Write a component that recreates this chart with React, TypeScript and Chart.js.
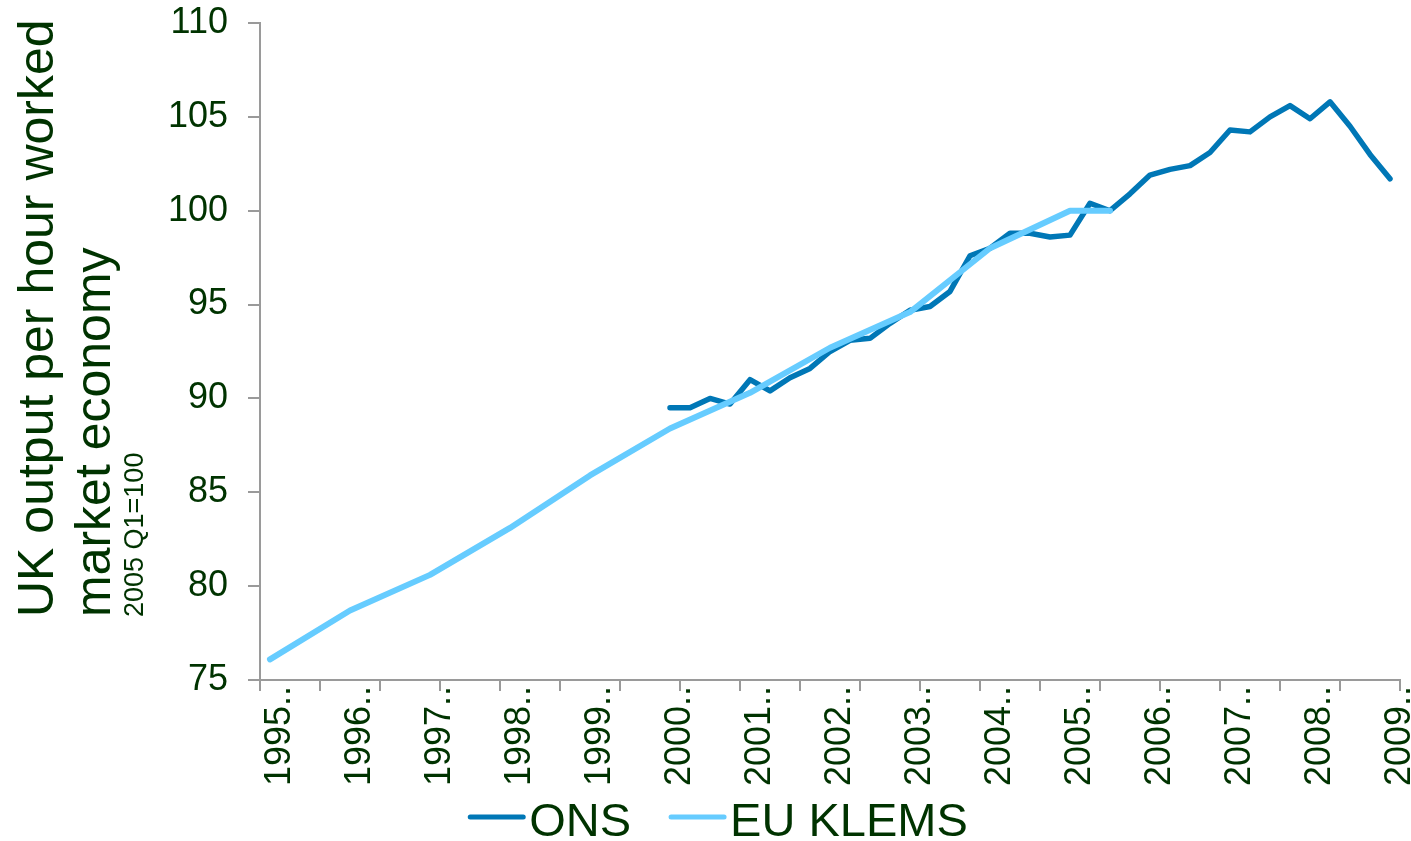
import React, { useEffect, useRef } from "react";
import { Chart, registerables } from "chart.js";

Chart.register(...registerables);

// ---- data ----
const YEARS = [1995, 1996, 1997, 1998, 1999, 2000, 2001, 2002, 2003, 2004, 2005, 2006, 2007, 2008, 2009];
const QUARTER_NAMES = ["Q1", "Q2", "Q3", "Q4"];
const LAST_PERIOD = "2009 Q1";
const ALL_PERIODS = YEARS.flatMap((y) => QUARTER_NAMES.map((q) => `${y} ${q}`));
const CATEGORIES = ALL_PERIODS.slice(0, ALL_PERIODS.indexOf(LAST_PERIOD) + 1);

const ONS_START = "2000 Q1";
const ONS_VALUES = [
  89.5, 89.5, 90.0, 89.7,
  91.0, 90.4, 91.1, 91.6,
  92.5, 93.1, 93.2, 94.0,
  94.7, 94.9, 95.7, 97.6,
  98.0, 98.8, 98.8, 98.6,
  98.7, 100.4, 100.0, 100.9,
  101.9, 102.2, 102.4, 103.1,
  104.3, 104.2, 105.0, 105.6,
  104.9, 105.8, 104.5, 103.0,
  101.7,
];

const EU_KLEMS_PERIODS = [
  "1995 Q1", "1996 Q1", "1997 Q1", "1998 Q1", "1999 Q1", "2000 Q1",
  "2001 Q1", "2002 Q1", "2003 Q1", "2004 Q1", "2005 Q1", "2005 Q3",
];
const EU_KLEMS_VALUES = [76.1, 78.7, 80.6, 83.1, 85.9, 88.4, 90.3, 92.7, 94.6, 98.0, 100.0, 100.0];

const SERIES_NAMES = ["ONS", "EU KLEMS"];
const Y_MIN = 75;
const Y_MAX = 110;
const Y_STEP = 5;
const Y_TITLE_LINES = ["UK output per hour worked", "market economy"];
const Y_SUBTITLE = "2005 Q1=100";

// ---- styles ----
const TEXT_COLOR = "#003300";
const AXIS_GREY = "#9a9a9a";
const ONS_COLOR = "#0077B6";
const KLEMS_COLOR = "#66CCFF";
const FONT = "'Liberation Sans', Arial, sans-serif";

const onsData = ONS_VALUES.map((v, i) => ({
  x: CATEGORIES[CATEGORIES.indexOf(ONS_START) + i],
  y: v,
}));
const klemsData = EU_KLEMS_PERIODS.map((p, i) => ({ x: p, y: EU_KLEMS_VALUES[i] }));

const decorPlugin = {
  id: "decor",
  afterDraw(chart: any) {
    const ctx = chart.ctx as CanvasRenderingContext2D;
    const xs = chart.scales.x;
    const area = chart.chartArea;
    ctx.save();

    // x-axis tick marks every 3 categories (at category boundaries)
    const step = xs.getPixelForValue(1) - xs.getPixelForValue(0);
    const first = xs.getPixelForValue(0) - step / 2;
    ctx.strokeStyle = AXIS_GREY;
    ctx.lineWidth = 2;
    ctx.beginPath();
    for (let i = 0; i <= CATEGORIES.length; i += 3) {
      const px = Math.round(first + i * step);
      ctx.moveTo(px, area.bottom);
      ctx.lineTo(px, area.bottom + 11);
    }
    ctx.stroke();

    // y-axis title (rotated)
    ctx.fillStyle = TEXT_COLOR;
    ctx.textAlign = "left";
    ctx.textBaseline = "alphabetic";
    const startY = 617;
    const drawRot = (text: string, bx: number, font: string) => {
      ctx.save();
      ctx.translate(bx, startY);
      ctx.rotate(-Math.PI / 2);
      ctx.font = font;
      ctx.fillText(text, 0, 0);
      ctx.restore();
    };
    drawRot(Y_TITLE_LINES[0], 53, `50px ${FONT}`);
    drawRot(Y_TITLE_LINES[1], 110, `50px ${FONT}`);
    drawRot(Y_SUBTITLE, 143, `27px ${FONT}`);

    // legend
    ctx.font = `47px ${FONT}`;
    const sampleW = 57;
    const gap = 4;
    const between = 38;
    const items = chart.data.datasets.map((d: any) => ({
      label: d.label,
      color: d.borderColor,
      w: sampleW + gap + ctx.measureText(d.label).width,
    }));
    const total = items.reduce((s: number, it: any) => s + it.w, 0) + between * (items.length - 1);
    let lx = 718 - total / 2;
    const ly = 817;
    items.forEach((it: any) => {
      ctx.strokeStyle = it.color;
      ctx.lineWidth = 5;
      ctx.lineCap = "round";
      ctx.beginPath();
      ctx.moveTo(lx + 2, ly);
      ctx.lineTo(lx + sampleW - 2, ly);
      ctx.stroke();
      ctx.fillStyle = TEXT_COLOR;
      ctx.fillText(it.label, lx + sampleW + gap, 836);
      lx += it.w + between;
    });
    ctx.restore();
  },
};

export default function App() {
  const canvasRef = useRef<HTMLCanvasElement | null>(null);

  useEffect(() => {
    document.body.style.margin = "0";
    const canvas = canvasRef.current;
    if (!canvas) return;
    const chart = new Chart(canvas, {
      type: "line",
      data: {
        labels: CATEGORIES,
        datasets: [
          {
            label: SERIES_NAMES[0],
            data: onsData as any,
            borderColor: ONS_COLOR,
            backgroundColor: ONS_COLOR,
            borderWidth: 5.5,
            pointRadius: 0,
            borderCapStyle: "round",
            borderJoinStyle: "round",
            tension: 0,
            order: 1,
          },
          {
            label: SERIES_NAMES[1],
            data: klemsData as any,
            borderColor: KLEMS_COLOR,
            backgroundColor: KLEMS_COLOR,
            borderWidth: 6,
            pointRadius: 0,
            borderCapStyle: "round",
            borderJoinStyle: "round",
            tension: 0,
            order: 0,
          },
        ],
      },
      options: {
        responsive: false,
        animation: false,
        layout: { padding: { top: 23, right: 11, left: 0, bottom: 0 } },
        plugins: {
          legend: { display: false },
          tooltip: { enabled: false },
          title: { display: false },
        },
        scales: {
          x: {
            type: "category",
            offset: true,
            afterFit: (scale: any) => {
              scale.height = 161;
              scale.paddingLeft = 0;
              scale.paddingRight = 0;
            },
            grid: {
              display: true,
              drawOnChartArea: false,
              offset: true,
              tickLength: 6,
              color: "rgba(0,0,0,0)",
            },
            border: { display: true, color: AXIS_GREY, width: 2 },
            ticks: {
              autoSkip: false,
              maxRotation: 90,
              minRotation: 90,
              padding: 0,
              labelOffset: 10,
              color: TEXT_COLOR,
              font: { family: FONT, size: 36 },
              callback: function (this: any, value: any, index: number) {
                if (index % 4 !== 0) return "";
                const lbl = this.getLabelForValue(value) as string;
                return lbl.slice(0, 4) + "..";
              },
            },
          },
          y: {
            min: Y_MIN,
            max: Y_MAX,
            afterFit: (scale: any) => {
              scale.width = 260;
              scale.paddingTop = 0;
              scale.paddingBottom = 0;
            },
            grid: {
              display: true,
              drawOnChartArea: false,
              tickLength: 12,
              color: AXIS_GREY,
              lineWidth: 2,
            },
            border: { display: true, color: AXIS_GREY, width: 2 },
            ticks: {
              stepSize: Y_STEP,
              padding: 20,
              color: TEXT_COLOR,
              font: { family: FONT, size: 36 },
            },
          },
        },
      },
      plugins: [decorPlugin],
    });
    return () => chart.destroy();
  }, []);

  return (
    <div style={{ position: "absolute", left: 0, top: 0, width: 1411, height: 841, background: "#fff" }}>
      <canvas ref={canvasRef} width={1411} height={841} />
    </div>
  );
}
